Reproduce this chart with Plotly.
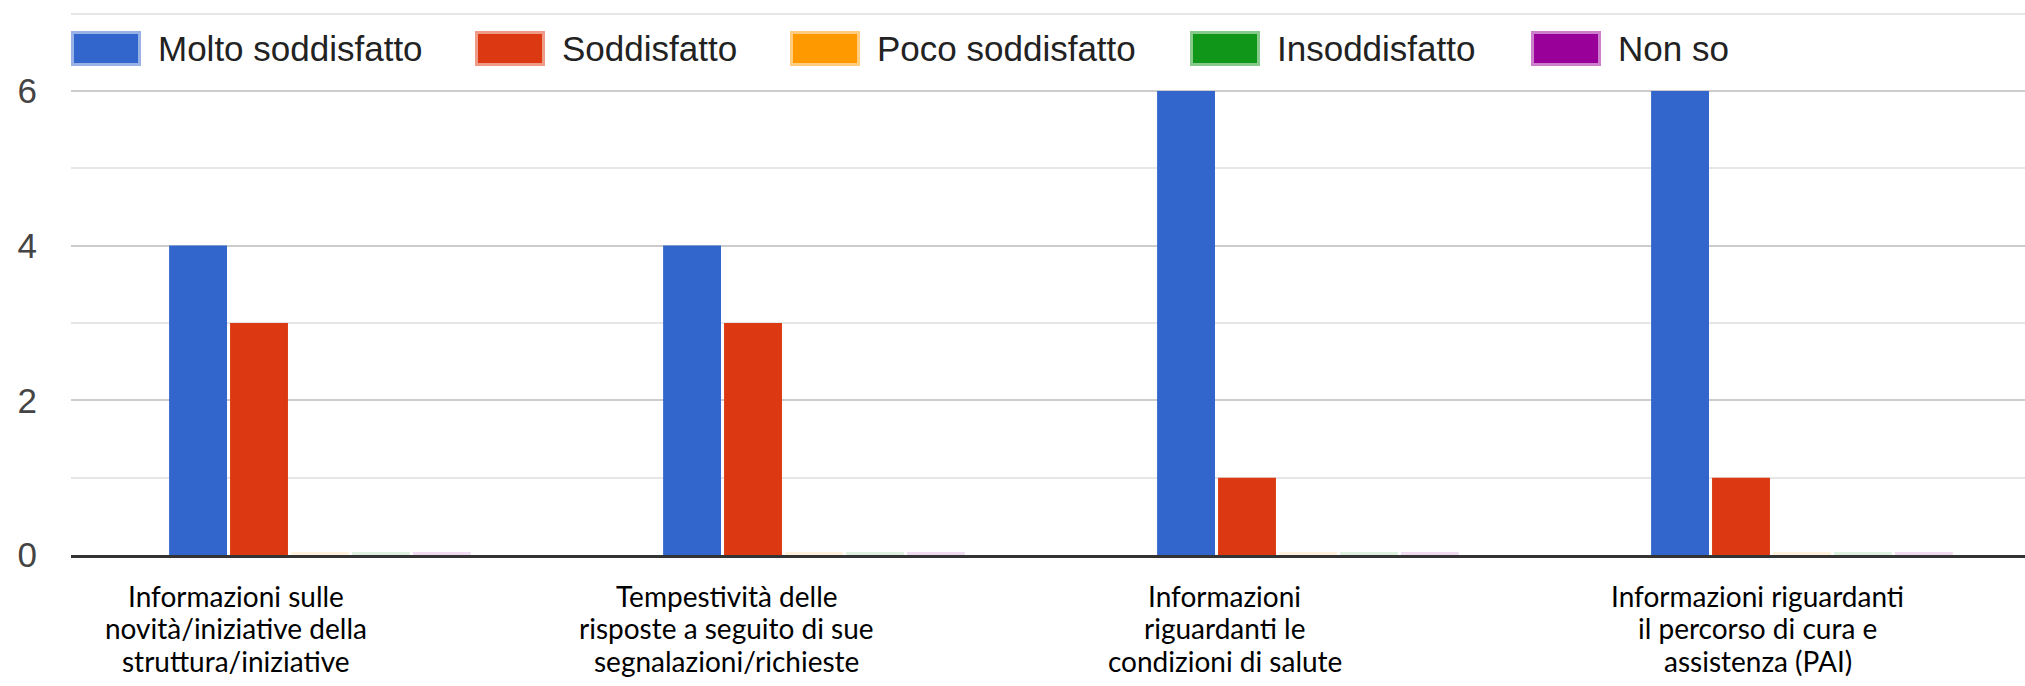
import plotly.graph_objects as go

# ---------------- data ----------------
categories = [
    "Informazioni sulle<br>novità/iniziative della<br>struttura/iniziative",
    "Tempestività delle<br>risposte a seguito di sue<br>segnalazioni/richieste",
    "Informazioni<br>riguardanti le<br>condizioni di salute",
    "Informazioni riguardanti<br>il percorso di cura e<br>assistenza (PAI)",
]
series_names = ["Molto soddisfatto", "Soddisfatto", "Poco soddisfatto", "Insoddisfatto", "Non so"]
molto_soddisfatto = [4, 4, 6, 6]
soddisfatto = [3, 3, 1, 1]
poco_soddisfatto = [0, 0, 0, 0]
insoddisfatto = [0, 0, 0, 0]
non_so = [0, 0, 0, 0]
y_tick_values = [0, 2, 4, 6]

series_values = [molto_soddisfatto, soddisfatto, poco_soddisfatto, insoddisfatto, non_so]

# ---------------- style ----------------
colors = ["#3366cc", "#dc3912", "#ff9900", "#109618", "#990099"]
W, H = 2025, 686
L, R, T, B = 71, 0, 12, 131
PW, PH = W - L - R, H - T - B


def mix_white(hex_color, alpha):
    h = hex_color.lstrip("#")
    r, g, b = int(h[0:2], 16), int(h[2:4], 16), int(h[4:6], 16)
    r = round(255 + (r - 255) * alpha)
    g = round(255 + (g - 255) * alpha)
    b = round(255 + (b - 255) * alpha)
    return f"rgb({r},{g},{b})"


def pxx(px):
    return (px - L) / PW


def pxy(py):
    return (H - B - py) / PH


x_idx = list(range(len(categories)))

fig = go.Figure()
for name, vals, col in zip(series_names, series_values, colors):
    fig.add_trace(go.Bar(
        x=x_idx, y=vals, name=name,
        marker=dict(
            color=col,
            line=dict(color=mix_white(col, 0.14),
                      width=[6 if v == 0 else 0 for v in vals]),
        ),
        showlegend=False,
        hoverinfo="skip",
    ))

# ---------------- manual legend ----------------
legend_box_x = [71, 475, 790, 1190, 1531]
box_w, box_top, box_bot = 70, 31, 66
shapes = []
annotations = []
for name, col, bx in zip(series_names, colors, legend_box_x):
    shapes.append(dict(
        type="rect", xref="paper", yref="paper",
        x0=pxx(bx + 1.5), x1=pxx(bx + box_w - 1.5),
        y0=pxy(box_bot - 1.5), y1=pxy(box_top + 1.5),
        fillcolor=col, line=dict(color=mix_white(col, 0.5), width=3),
        layer="above",
    ))
    annotations.append(dict(
        xref="paper", yref="paper", x=pxx(bx + box_w + 15), y=pxy(48.5),
        xanchor="left", yanchor="middle", showarrow=False,
        text=name, font=dict(family="Liberation Sans, Arial", size=35, color="#222222"),
    ))

# ---------------- category labels ----------------
label_xshift = [-84, -87, -83, -44]
line_baselines = [607, 638.5, 671.5]
cat_fs = 28
for i, cat in enumerate(categories):
    for j, line in enumerate(cat.split("<br>")):
        annotations.append(dict(
            xref="x", yref="paper", x=i, y=pxy(line_baselines[j] - 0.387 * cat_fs),
            xanchor="center", yanchor="middle", showarrow=False, xshift=label_xshift[i],
            text=line, font=dict(family="Lato", size=cat_fs, color="#000000"),
        ))

fig.update_layout(
    width=W, height=H, autosize=False,
    margin=dict(l=L, r=R, t=T, b=B, pad=0),
    paper_bgcolor="white", plot_bgcolor="white",
    barmode="group", bargap=0.383, bargroupgap=0.05,
    shapes=shapes, annotations=annotations,
    showlegend=False,
    xaxis=dict(
        range=[-0.504, 3.4515], showgrid=False, zeroline=False,
        showticklabels=False, ticks="",
        showline=True, linecolor="#333333", linewidth=3,
        fixedrange=True,
    ),
    yaxis=dict(
        range=[0, 7.02], tickvals=y_tick_values, showgrid=True,
        gridcolor="#cccccc", gridwidth=2, zeroline=False,
        ticks="", ticklabelstandoff=33,
        tickfont=dict(family="Liberation Sans, Arial", size=35, color="#444444"),
        minor=dict(dtick=1, tick0=0, showgrid=True, gridcolor="#e6e6e6", gridwidth=2),
        fixedrange=True,
    ),
)

fig.write_html("out.html", config={"displayModeBar": False},
               post_script="document.body.style.margin='0';")
